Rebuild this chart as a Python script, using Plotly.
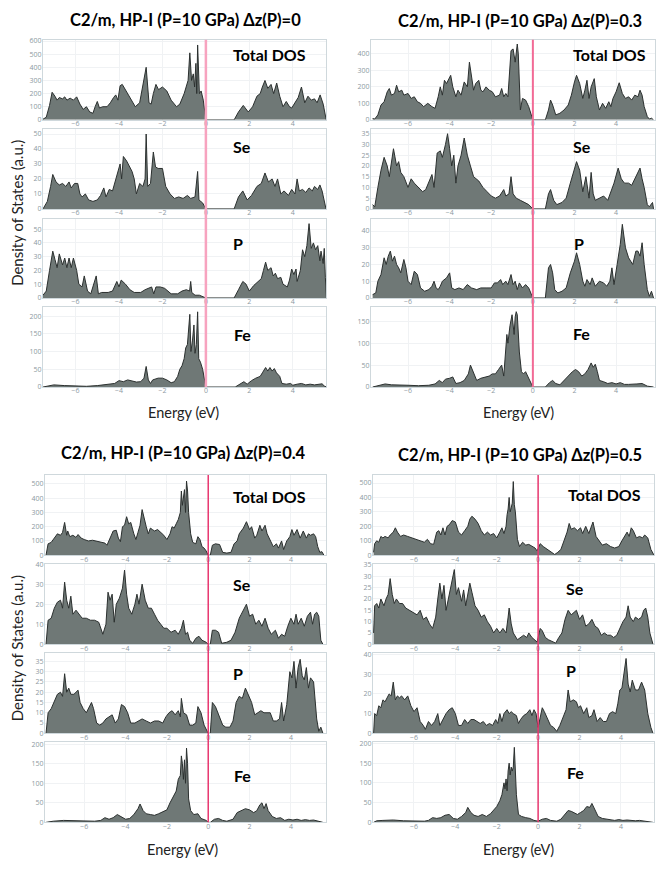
import plotly.graph_objects as go

W, H = 664, 869
PAD = 8  # the page body adds an 8px margin around the figure
FW, FH = W - 2 * PAD, H - 2 * PAD

# (energy eV, DOS) pairs
# --- panel 1 : dz(P)=0 ---
p1_total = [(-7.5, 5), (-7.35, 20), (-7.2, 110), (-7.08, 210), (-6.95, 180), (-6.85, 150), (-6.75, 170),
            (-6.6, 160), (-6.5, 175), (-6.4, 150), (-6.25, 165), (-6.1, 150), (-5.95, 175), (-5.8, 120),
            (-5.65, 80), (-5.5, 100), (-5.35, 60), (-5.2, 50), (-5.1, 100), (-5.0, 140), (-4.9, 90),
            (-4.75, 100), (-4.55, 100), (-4.4, 130), (-4.25, 170), (-4.15, 190), (-4.05, 150), (-3.95, 260),
            (-3.85, 270), (-3.7, 230), (-3.55, 190), (-3.4, 150), (-3.25, 100), (-3.05, 130), (-2.9, 280),
            (-2.75, 400), (-2.62, 130), (-2.52, 120), (-2.42, 200), (-2.3, 270), (-2.18, 230), (-2.0, 250),
            (-1.8, 220), (-1.6, 150), (-1.35, 100), (-1.2, 120), (-1.0, 200), (-0.9, 250), (-0.82, 300),
            (-0.74, 510), (-0.66, 300), (-0.58, 350), (-0.52, 250), (-0.46, 430), (-0.42, 200), (-0.38, 570),
            (-0.3, 200), (-0.22, 220), (-0.12, 150), (0, 0), (1.3, 0), (1.5, 60), (1.72, 110), (1.95, 60),
            (2.15, 100), (2.35, 180), (2.5, 200), (2.6, 250), (2.72, 300), (2.85, 240), (3.0, 270), (3.12, 200),
            (3.26, 280), (3.4, 180), (3.55, 100), (3.7, 140), (3.85, 100), (3.95, 90), (4.1, 130), (4.25, 170),
            (4.4, 250), (4.55, 130), (4.7, 180), (4.85, 150), (5.0, 160), (5.12, 130), (5.26, 190), (5.4, 120),
            (5.54, 0)]
p1_se = [(-7.5, 0), (-7.3, 5), (-7.15, 15), (-7.05, 23), (-6.9, 18), (-6.75, 16), (-6.6, 17), (-6.45, 15),
         (-6.3, 18), (-6.2, 14), (-6.05, 17), (-5.9, 17), (-5.8, 10), (-5.7, 8), (-5.55, 10), (-5.4, 6),
         (-5.2, 5), (-5.0, 6), (-4.85, 9), (-4.7, 14), (-4.6, 8), (-4.45, 13), (-4.3, 12), (-4.15, 20),
         (-4.05, 25), (-3.95, 30), (-3.88, 20), (-3.8, 35), (-3.65, 32), (-3.5, 28), (-3.4, 25), (-3.3, 20),
         (-3.2, 10), (-3.05, 17), (-2.9, 15), (-2.8, 20), (-2.75, 50), (-2.68, 15), (-2.55, 17), (-2.42, 38),
         (-2.32, 28), (-2.2, 27), (-2.0, 27), (-1.85, 15), (-1.65, 10), (-1.45, 7), (-1.25, 8), (-1.05, 7),
         (-0.85, 9), (-0.7, 7), (-0.5, 8), (-0.38, 25), (-0.32, 6), (-0.15, 4), (0, 0), (1.3, 0), (1.5, 8),
         (1.7, 12), (1.9, 6), (2.1, 9), (2.35, 15), (2.55, 17), (2.72, 24), (2.88, 18), (3.05, 20), (3.18, 15),
         (3.3, 20), (3.45, 10), (3.6, 12), (3.8, 9), (3.95, 13), (4.1, 10), (4.2, 20), (4.3, 12), (4.45, 13),
         (4.6, 11), (4.75, 14), (4.9, 12), (5.0, 15), (5.15, 13), (5.25, 16), (5.35, 12), (5.45, 5), (5.53, 0)]
p1_p = [(-7.5, 2), (-7.35, 5), (-7.2, 20), (-7.05, 34), (-6.95, 28), (-6.85, 22), (-6.75, 32), (-6.6, 24),
        (-6.5, 29), (-6.4, 22), (-6.3, 29), (-6.2, 22), (-6.1, 29), (-5.95, 20), (-5.85, 10), (-5.7, 8),
        (-5.6, 16), (-5.45, 5), (-5.3, 3), (-5.15, 10), (-5.05, 16), (-4.95, 3), (-4.8, 4), (-4.5, 4),
        (-4.3, 5), (-4.1, 12), (-4.0, 8), (-3.9, 13), (-3.7, 10), (-3.5, 6), (-3.3, 4), (-3.0, 4), (-2.8, 6),
        (-2.5, 8), (-2.4, 3), (-2.3, 8), (-2.1, 8), (-1.9, 7), (-1.6, 3), (-1.3, 3), (-1.1, 5), (-0.9, 6),
        (-0.75, 5), (-0.7, 12), (-0.65, 4), (-0.5, 2), (-0.3, 2), (0, 0), (1.3, 0), (1.5, 6), (1.7, 12),
        (1.85, 10), (2.0, 5), (2.2, 9), (2.4, 12), (2.55, 14), (2.65, 20), (2.75, 26), (2.85, 20), (3.0, 22),
        (3.1, 16), (3.2, 18), (3.3, 14), (3.45, 15), (3.55, 10), (3.75, 8), (3.85, 13), (3.95, 21),
        (4.05, 17), (4.15, 21), (4.2, 12), (4.35, 20), (4.45, 35), (4.55, 30), (4.65, 38), (4.75, 54),
        (4.85, 36), (4.95, 40), (5.05, 35), (5.15, 38), (5.25, 27), (5.3, 34), (5.4, 25), (5.45, 36),
        (5.5, 15), (5.55, 0)]
p1_fe = [(-7.5, 0), (-7.2, 3), (-7.0, 6), (-6.5, 4), (-6.0, 3), (-5.5, 2), (-5.0, 4), (-4.6, 6), (-4.2, 10),
         (-4.0, 18), (-3.8, 15), (-3.6, 20), (-3.4, 18), (-3.2, 14), (-3.0, 15), (-2.85, 25), (-2.75, 58),
         (-2.65, 20), (-2.55, 10), (-2.45, 20), (-2.2, 25), (-2.0, 25), (-1.8, 20), (-1.6, 12), (-1.45, 15),
         (-1.3, 30), (-1.2, 50), (-1.1, 60), (-1.0, 80), (-0.93, 110), (-0.85, 120), (-0.74, 205),
         (-0.69, 100), (-0.62, 130), (-0.55, 175), (-0.5, 95), (-0.44, 120), (-0.38, 212), (-0.33, 80),
         (-0.25, 70), (-0.15, 50), (-0.05, 20), (0, 0), (1.35, 0), (1.6, 10), (1.75, 15), (1.9, 8),
         (2.1, 18), (2.3, 25), (2.5, 30), (2.6, 40), (2.75, 55), (2.85, 45), (2.95, 55), (3.05, 45),
         (3.15, 52), (3.25, 40), (3.4, 30), (3.5, 10), (3.7, 8), (3.9, 10), (4.0, 5), (4.2, 8), (4.4, 10),
         (4.6, 6), (4.8, 8), (5.0, 6), (5.2, 8), (5.35, 9), (5.45, 3), (5.55, 0)]

# --- panel 2 : dz(P)=0.3 ---
p2_total = [(-7.7, 8), (-7.6, 5), (-7.45, 30), (-7.3, 90), (-7.15, 110), (-7.0, 170), (-6.9, 190), (-6.8, 150),
            (-6.65, 160), (-6.55, 210), (-6.45, 170), (-6.3, 180), (-6.2, 150), (-6.0, 160), (-5.85, 130),
            (-5.7, 140), (-5.55, 110), (-5.4, 100), (-5.25, 80), (-5.05, 100), (-4.85, 80), (-4.7, 70),
            (-4.55, 140), (-4.45, 200), (-4.35, 150), (-4.25, 240), (-4.15, 220), (-4.05, 250), (-3.95, 270),
            (-3.85, 200), (-3.7, 140), (-3.6, 180), (-3.45, 150), (-3.3, 230), (-3.15, 200), (-3.05, 350),
            (-2.95, 250), (-2.85, 180), (-2.75, 220), (-2.6, 240), (-2.5, 180), (-2.4, 170), (-2.25, 200),
            (-2.1, 180), (-1.95, 170), (-1.8, 140), (-1.6, 150), (-1.5, 190), (-1.4, 140), (-1.3, 160),
            (-1.2, 140), (-1.1, 300), (-1.05, 420), (-0.95, 430), (-0.9, 380), (-0.85, 350), (-0.75, 460),
            (-0.7, 400), (-0.6, 60), (-0.5, 130), (-0.35, 120), (-0.2, 80), (0, 0), (0.6, 0), (0.75, 60),
            (0.85, 120), (0.95, 90), (1.1, 30), (1.3, 40), (1.5, 60), (1.7, 90), (1.85, 150), (2.0, 230),
            (2.1, 270), (2.25, 220), (2.4, 130), (2.5, 180), (2.6, 240), (2.7, 130), (2.8, 200), (2.95, 250),
            (3.05, 140), (3.2, 60), (3.35, 100), (3.5, 70), (3.65, 110), (3.75, 80), (3.85, 130), (4.0, 170),
            (4.15, 225), (4.3, 160), (4.45, 130), (4.6, 140), (4.75, 120), (4.9, 150), (5.05, 140),
            (5.15, 180), (5.25, 150), (5.35, 80), (5.5, 20), (5.6, 5), (5.7, 10), (5.8, 0)]
p2_se = [(-7.7, 2), (-7.6, 1), (-7.45, 10), (-7.3, 18), (-7.15, 24), (-7.0, 20), (-6.9, 15), (-6.8, 22),
         (-6.7, 28), (-6.55, 20), (-6.45, 22), (-6.35, 17), (-6.2, 15), (-6.0, 10), (-5.85, 14), (-5.7, 12),
         (-5.5, 10), (-5.3, 8), (-5.15, 9), (-5.0, 13), (-4.85, 16), (-4.75, 10), (-4.6, 26), (-4.45, 27),
         (-4.35, 24), (-4.2, 30), (-4.1, 35), (-4.0, 28), (-3.9, 20), (-3.8, 25), (-3.7, 12), (-3.6, 20),
         (-3.45, 25), (-3.3, 33), (-3.15, 25), (-3.0, 20), (-2.85, 15), (-2.6, 13), (-2.4, 10), (-2.2, 8),
         (-2.0, 6), (-1.8, 5), (-1.6, 6), (-1.4, 9), (-1.3, 6), (-1.15, 7), (-1.05, 15), (-0.95, 7),
         (-0.8, 5), (-0.6, 4), (-0.4, 3), (-0.2, 2), (0, 0), (0.6, 0), (0.75, 7), (0.85, 9), (1.0, 4),
         (1.15, 2), (1.4, 3), (1.6, 5), (1.8, 12), (2.0, 18), (2.1, 22), (2.25, 18), (2.4, 8), (2.55, 15),
         (2.7, 5), (2.8, 17), (2.9, 7), (3.0, 4), (3.2, 5), (3.4, 6), (3.6, 4), (3.75, 8), (3.9, 12),
         (4.1, 19), (4.25, 14), (4.4, 12), (4.6, 12), (4.75, 11), (4.9, 14), (5.05, 17), (5.15, 19),
         (5.25, 14), (5.35, 10), (5.5, 2), (5.6, 1), (5.75, 3), (5.8, 0)]
p2_p = [(-7.7, 2), (-7.55, 3), (-7.45, 10), (-7.3, 14), (-7.15, 24), (-7.05, 20), (-6.95, 25), (-6.85, 28),
        (-6.75, 22), (-6.65, 25), (-6.55, 20), (-6.45, 18), (-6.35, 15), (-6.2, 23), (-6.1, 18), (-6.0, 10),
        (-5.85, 8), (-5.7, 16), (-5.55, 14), (-5.4, 6), (-5.2, 4), (-5.0, 5), (-4.85, 7), (-4.75, 10),
        (-4.65, 6), (-4.55, 5), (-4.45, 7), (-4.35, 10), (-4.15, 12), (-4.0, 15), (-3.9, 6), (-3.75, 5),
        (-3.55, 6), (-3.35, 5), (-3.15, 8), (-2.95, 6), (-2.7, 5), (-2.5, 6), (-2.25, 6), (-2.0, 6),
        (-1.85, 9), (-1.7, 9), (-1.55, 11), (-1.45, 8), (-1.3, 10), (-1.2, 8), (-1.05, 14), (-0.95, 8),
        (-0.85, 10), (-0.75, 5), (-0.65, 9), (-0.5, 6), (-0.35, 8), (-0.2, 6), (-0.1, 3), (0, 0), (0.6, 0),
        (0.75, 18), (0.85, 20), (0.95, 15), (1.05, 5), (1.2, 3), (1.4, 4), (1.6, 6), (1.8, 15), (2.0, 22),
        (2.1, 27), (2.25, 20), (2.4, 10), (2.5, 7), (2.6, 11), (2.75, 8), (2.85, 12), (3.0, 7), (3.2, 10),
        (3.4, 9), (3.55, 7), (3.7, 10), (3.8, 18), (3.9, 8), (4.05, 20), (4.2, 32), (4.3, 44), (4.45, 30),
        (4.6, 24), (4.8, 20), (4.95, 28), (5.05, 28), (5.15, 25), (5.25, 33), (5.35, 20), (5.5, 5),
        (5.6, 1), (5.7, 4), (5.8, 0)]
p2_fe = [(-7.7, 0), (-7.4, 4), (-7.1, 7), (-6.8, 5), (-6.4, 5), (-6.0, 4), (-5.5, 3), (-5.0, 4), (-4.7, 7),
         (-4.5, 15), (-4.35, 10), (-4.2, 18), (-4.0, 20), (-3.85, 23), (-3.7, 8), (-3.5, 10), (-3.3, 15),
         (-3.1, 30), (-3.0, 50), (-2.85, 30), (-2.7, 15), (-2.5, 20), (-2.3, 22), (-2.1, 25), (-1.95, 30),
         (-1.8, 30), (-1.65, 40), (-1.5, 50), (-1.4, 25), (-1.3, 100), (-1.25, 120), (-1.2, 100),
         (-1.1, 140), (-1.0, 165), (-0.95, 140), (-0.9, 120), (-0.85, 160), (-0.8, 172), (-0.75, 165),
         (-0.65, 80), (-0.55, 35), (-0.45, 30), (-0.35, 35), (-0.25, 25), (-0.1, 10), (0, 0), (0.6, 0),
         (0.8, 10), (0.95, 15), (1.1, 8), (1.3, 5), (1.5, 15), (1.7, 25), (1.9, 35), (2.05, 40), (2.2, 35),
         (2.35, 25), (2.5, 30), (2.65, 40), (2.8, 55), (2.9, 45), (3.0, 52), (3.1, 35), (3.2, 15), (3.4, 12),
         (3.6, 8), (3.8, 10), (4.0, 7), (4.2, 10), (4.4, 6), (4.6, 6), (4.8, 6), (5.0, 7), (5.25, 8),
         (5.35, 5), (5.5, 2), (5.8, 0)]

# --- panel 3 : dz(P)=0.4 ---
p3_total = [(-7.85, 0), (-7.75, 80), (-7.6, 90), (-7.45, 120), (-7.3, 150), (-7.15, 140), (-7.05, 160),
            (-6.95, 230), (-6.85, 140), (-6.8, 170), (-6.7, 130), (-6.55, 140), (-6.4, 125), (-6.3, 145),
            (-6.15, 120), (-6.0, 110), (-5.8, 100), (-5.6, 105), (-5.4, 100), (-5.2, 90), (-5.0, 85),
            (-4.9, 70), (-4.75, 120), (-4.6, 170), (-4.45, 175), (-4.35, 120), (-4.25, 95), (-4.15, 200),
            (-4.05, 210), (-3.95, 270), (-3.85, 220), (-3.75, 230), (-3.6, 150), (-3.5, 110), (-3.4, 160),
            (-3.3, 210), (-3.2, 320), (-3.1, 250), (-3.0, 200), (-2.9, 150), (-2.8, 190), (-2.7, 180),
            (-2.6, 170), (-2.45, 180), (-2.3, 160), (-2.15, 140), (-2.0, 110), (-1.85, 150), (-1.75, 200),
            (-1.65, 190), (-1.55, 220), (-1.45, 250), (-1.35, 300), (-1.3, 450), (-1.25, 350), (-1.15, 460),
            (-1.1, 300), (-1.05, 520), (-1.0, 450), (-0.95, 300), (-0.85, 150), (-0.75, 90), (-0.6, 80),
            (-0.5, 130), (-0.4, 110), (-0.3, 60), (-0.2, 50), (-0.1, 30), (0, 0), (0.1, 0), (0.2, 70),
            (0.35, 80), (0.55, 75), (0.7, 20), (0.9, 15), (1.1, 20), (1.25, 80), (1.4, 100), (1.5, 150),
            (1.7, 190), (1.85, 235), (2.0, 180), (2.1, 200), (2.25, 120), (2.35, 140), (2.5, 210), (2.6, 170),
            (2.75, 210), (2.85, 150), (3.0, 100), (3.15, 60), (3.3, 80), (3.4, 50), (3.55, 100), (3.65, 40),
            (3.8, 100), (3.95, 130), (4.05, 180), (4.15, 140), (4.3, 180), (4.45, 120), (4.6, 170),
            (4.75, 120), (4.85, 150), (4.95, 140), (5.1, 150), (5.2, 130), (5.3, 60), (5.4, 20), (5.5, 25),
            (5.6, 0)]
p3_se = [(-7.85, 0), (-7.75, 12), (-7.6, 13), (-7.45, 18), (-7.3, 21), (-7.15, 22), (-7.05, 18), (-6.95, 31),
         (-6.85, 22), (-6.75, 18), (-6.65, 24), (-6.55, 15), (-6.4, 17), (-6.25, 15), (-6.1, 13), (-5.9, 13),
         (-5.7, 12), (-5.5, 12), (-5.3, 11), (-5.1, 5), (-4.95, 10), (-4.85, 26), (-4.75, 22), (-4.65, 25),
         (-4.55, 11), (-4.45, 20), (-4.3, 23), (-4.15, 28), (-4.05, 37), (-3.95, 25), (-3.85, 18),
         (-3.7, 15), (-3.55, 20), (-3.45, 25), (-3.35, 20), (-3.2, 30), (-3.05, 22), (-2.9, 18), (-2.75, 18),
         (-2.6, 15), (-2.45, 12), (-2.3, 10), (-2.15, 8), (-2.0, 8), (-1.8, 6), (-1.6, 7), (-1.45, 5),
         (-1.3, 8), (-1.2, 12), (-1.1, 5), (-1.0, 6), (-0.9, 2), (-0.75, 0.5), (-0.6, 3), (-0.45, 4),
         (-0.3, 2), (-0.1, 1), (0, 0), (0.1, 0), (0.2, 7), (0.35, 7), (0.5, 6), (0.65, 0.5), (0.9, 1),
         (1.1, 2), (1.3, 6), (1.5, 13), (1.6, 15), (1.75, 18), (1.85, 20), (2.0, 14), (2.15, 15), (2.3, 10),
         (2.45, 12), (2.6, 9), (2.75, 13), (2.9, 8), (3.05, 5), (3.25, 7), (3.4, 3), (3.55, 5), (3.7, 4),
         (3.85, 9), (4.0, 13), (4.15, 10), (4.25, 15), (4.35, 10), (4.5, 13), (4.65, 9), (4.8, 14),
         (4.95, 16), (5.05, 10), (5.15, 15), (5.25, 16), (5.35, 14), (5.45, 2), (5.55, 0)]
p3_p = [(-7.85, 0), (-7.75, 10), (-7.6, 12), (-7.45, 16), (-7.3, 19), (-7.15, 20), (-7.05, 18), (-6.95, 29),
        (-6.85, 20), (-6.75, 22), (-6.65, 19), (-6.5, 19), (-6.4, 20), (-6.3, 21), (-6.2, 15), (-6.05, 12),
        (-5.9, 10), (-5.75, 13), (-5.65, 15), (-5.55, 12), (-5.4, 5), (-5.25, 4), (-5.1, 5), (-4.95, 7),
        (-4.8, 8), (-4.65, 9), (-4.5, 5), (-4.35, 7), (-4.2, 14), (-4.05, 13), (-3.9, 10), (-3.75, 5),
        (-3.55, 5), (-3.4, 6), (-3.2, 7), (-3.0, 6), (-2.8, 5), (-2.6, 6), (-2.4, 6), (-2.2, 5), (-2.05, 8),
        (-1.9, 10), (-1.75, 11), (-1.6, 9), (-1.45, 11), (-1.35, 8), (-1.3, 17), (-1.2, 10), (-1.05, 9),
        (-0.9, 4), (-0.75, 4), (-0.6, 5), (-0.5, 13), (-0.35, 10), (-0.2, 4), (-0.05, 1), (0, 0), (0.1, 0),
        (0.2, 15), (0.35, 13), (0.55, 8), (0.7, 4), (0.85, 3), (1.05, 3), (1.2, 6), (1.35, 15), (1.5, 18),
        (1.65, 17), (1.8, 22), (1.95, 18), (2.1, 15), (2.25, 9), (2.4, 10), (2.55, 11), (2.7, 10),
        (2.85, 10), (3.0, 10), (3.15, 6), (3.3, 6), (3.45, 7), (3.55, 15), (3.65, 6), (3.8, 14), (3.95, 30),
        (4.05, 27), (4.15, 35), (4.25, 22), (4.35, 32), (4.45, 36), (4.55, 28), (4.65, 26), (4.75, 32),
        (4.85, 22), (4.95, 27), (5.1, 25), (5.25, 7), (5.35, 1), (5.45, 3), (5.55, 0)]
p3_fe = [(-7.85, 0), (-7.5, 3), (-7.0, 5), (-6.5, 4), (-6.0, 3), (-5.5, 3), (-5.2, 5), (-5.0, 12), (-4.8, 8),
         (-4.6, 12), (-4.4, 20), (-4.2, 15), (-4.0, 8), (-3.8, 10), (-3.6, 20), (-3.4, 35), (-3.3, 47),
         (-3.15, 30), (-3.0, 22), (-2.8, 20), (-2.6, 18), (-2.4, 22), (-2.2, 28), (-2.0, 32), (-1.85, 50),
         (-1.7, 65), (-1.55, 80), (-1.45, 110), (-1.35, 120), (-1.3, 170), (-1.25, 150), (-1.2, 110),
         (-1.15, 160), (-1.1, 100), (-1.05, 190), (-1.0, 150), (-0.95, 60), (-0.85, 30), (-0.7, 20),
         (-0.5, 22), (-0.35, 10), (-0.1, 5), (0, 0), (0.1, 0), (0.3, 8), (0.5, 10), (0.7, 5), (0.9, 3),
         (1.2, 8), (1.4, 25), (1.6, 30), (1.8, 35), (2.0, 32), (2.2, 25), (2.35, 30), (2.5, 45), (2.6, 50),
         (2.7, 35), (2.8, 48), (2.9, 30), (3.1, 15), (3.3, 10), (3.5, 12), (3.7, 5), (3.9, 8), (4.1, 6),
         (4.3, 8), (4.5, 5), (4.7, 7), (4.9, 5), (5.1, 6), (5.3, 3), (5.55, 0)]

# --- panel 4 : dz(P)=0.5 ---
p4_total = [(-7.95, 20), (-7.9, 80), (-7.8, 100), (-7.7, 90), (-7.6, 130), (-7.5, 120), (-7.4, 130),
            (-7.25, 120), (-7.15, 140), (-7.0, 160), (-6.9, 190), (-6.8, 160), (-6.65, 130), (-6.5, 140),
            (-6.3, 130), (-6.1, 120), (-5.9, 110), (-5.7, 105), (-5.5, 90), (-5.35, 110), (-5.2, 80),
            (-5.05, 75), (-4.9, 160), (-4.8, 170), (-4.7, 140), (-4.6, 190), (-4.5, 140), (-4.4, 200),
            (-4.3, 210), (-4.15, 240), (-4.0, 230), (-3.85, 160), (-3.7, 140), (-3.55, 170), (-3.4, 200),
            (-3.3, 250), (-3.2, 270), (-3.05, 250), (-2.9, 220), (-2.75, 170), (-2.6, 140), (-2.45, 160),
            (-2.3, 140), (-2.15, 150), (-2.0, 120), (-1.85, 160), (-1.75, 190), (-1.65, 150), (-1.55, 200),
            (-1.5, 280), (-1.45, 320), (-1.4, 400), (-1.35, 300), (-1.25, 360), (-1.2, 510), (-1.15, 350),
            (-1.1, 300), (-1.0, 110), (-0.9, 60), (-0.75, 90), (-0.6, 70), (-0.45, 75), (-0.3, 60),
            (-0.15, 50), (-0.05, 30), (0.0, 50), (0.1, 80), (0.25, 60), (0.45, 40), (0.6, 20), (0.8, 5),
            (0.95, 20), (1.1, 40), (1.25, 100), (1.4, 160), (1.5, 220), (1.6, 180), (1.75, 190), (1.9, 170),
            (2.05, 190), (2.15, 150), (2.3, 200), (2.45, 150), (2.6, 210), (2.65, 230), (2.8, 130),
            (2.95, 100), (3.1, 70), (3.3, 80), (3.5, 60), (3.7, 50), (3.9, 60), (4.05, 100), (4.2, 140),
            (4.3, 160), (4.4, 130), (4.5, 190), (4.6, 170), (4.75, 120), (4.9, 130), (5.05, 120), (5.15, 140),
            (5.3, 120), (5.45, 40), (5.6, 0)]
p4_se = [(-7.95, 5), (-7.9, 17), (-7.8, 18), (-7.7, 16), (-7.6, 20), (-7.45, 17), (-7.35, 20), (-7.25, 22),
         (-7.15, 29), (-7.05, 22), (-6.95, 18), (-6.85, 20), (-6.7, 18), (-6.55, 18), (-6.4, 16), (-6.2, 15),
         (-6.0, 14), (-5.85, 13), (-5.7, 15), (-5.55, 11), (-5.4, 12), (-5.25, 9), (-5.1, 7), (-4.95, 12),
         (-4.85, 20), (-4.75, 27), (-4.65, 20), (-4.55, 26), (-4.45, 15), (-4.3, 22), (-4.15, 28),
         (-4.05, 33), (-3.95, 22), (-3.85, 25), (-3.7, 19), (-3.6, 24), (-3.5, 17), (-3.4, 22), (-3.3, 27),
         (-3.2, 23), (-3.05, 17), (-2.9, 15), (-2.75, 12), (-2.6, 13), (-2.45, 10), (-2.3, 8), (-2.15, 5),
         (-2.0, 7), (-1.85, 5), (-1.7, 7), (-1.55, 5), (-1.45, 12), (-1.4, 16), (-1.3, 9), (-1.2, 5),
         (-1.0, 2), (-0.85, 3), (-0.7, 4), (-0.55, 3), (-0.45, 5), (-0.3, 3), (-0.15, 2), (-0.05, 1),
         (0.0, 3), (0.1, 7), (0.2, 6), (0.35, 3), (0.5, 2), (0.7, 1), (0.85, 0.5), (1.0, 3), (1.15, 5),
         (1.3, 11), (1.45, 15), (1.6, 13), (1.75, 14), (1.85, 15), (2.0, 11), (2.15, 13), (2.3, 8), (2.45, 9),
         (2.6, 11), (2.75, 8), (2.9, 7), (3.05, 4), (3.2, 5), (3.35, 4), (3.5, 4), (3.65, 3), (3.8, 4),
         (3.95, 7), (4.1, 10), (4.25, 12), (4.35, 17), (4.45, 12), (4.6, 10), (4.7, 12), (4.85, 11),
         (5.0, 12), (5.1, 15), (5.2, 16), (5.3, 12), (5.4, 5), (5.5, 1), (5.55, 0)]
p4_p = [(-7.95, 0), (-7.9, 10), (-7.8, 9), (-7.7, 14), (-7.6, 13), (-7.5, 17), (-7.4, 16), (-7.3, 18),
        (-7.2, 20), (-7.1, 19), (-7.0, 26), (-6.9, 17), (-6.8, 19), (-6.7, 18), (-6.6, 19), (-6.45, 17),
        (-6.3, 19), (-6.15, 14), (-6.0, 11), (-5.85, 13), (-5.7, 6), (-5.55, 4), (-5.45, 2), (-5.3, 6),
        (-5.15, 4), (-5.0, 6), (-4.85, 10), (-4.75, 4), (-4.6, 7), (-4.45, 10), (-4.3, 12), (-4.15, 13),
        (-4.0, 10), (-3.85, 4), (-3.7, 4), (-3.55, 7), (-3.4, 5), (-3.25, 7), (-3.1, 7), (-2.95, 6),
        (-2.8, 5), (-2.65, 6), (-2.5, 4), (-2.35, 5), (-2.2, 4), (-2.05, 7), (-1.95, 5), (-1.85, 10),
        (-1.75, 6), (-1.65, 10), (-1.5, 12), (-1.4, 10), (-1.3, 11), (-1.2, 10), (-1.05, 9), (-0.95, 5),
        (-0.85, 7), (-0.7, 9), (-0.55, 10), (-0.4, 12), (-0.3, 9), (-0.2, 12), (-0.1, 10), (0.0, 3),
        (0.1, 8), (0.2, 13), (0.3, 11), (0.45, 7), (0.6, 4), (0.75, 3), (0.9, 1), (1.05, 4), (1.2, 8),
        (1.35, 12), (1.45, 22), (1.55, 16), (1.7, 17), (1.85, 16), (1.95, 13), (2.05, 14), (2.2, 10),
        (2.35, 13), (2.45, 8), (2.6, 9), (2.7, 12), (2.85, 6), (3.0, 8), (3.15, 6), (3.3, 6), (3.45, 10),
        (3.6, 11), (3.75, 10), (3.85, 15), (3.95, 22), (4.05, 23), (4.15, 30), (4.25, 38), (4.35, 25),
        (4.45, 21), (4.55, 27), (4.7, 22), (4.85, 22), (5.0, 26), (5.15, 22), (5.3, 10), (5.45, 3), (5.55, 0)]
p4_fe = [(-7.95, 0), (-7.8, 4), (-7.5, 5), (-7.0, 6), (-6.5, 4), (-6.0, 3), (-5.5, 3), (-5.3, 5), (-5.1, 12),
         (-4.9, 10), (-4.7, 12), (-4.5, 18), (-4.3, 20), (-4.1, 10), (-3.9, 8), (-3.7, 15), (-3.5, 25),
         (-3.4, 38), (-3.25, 25), (-3.1, 18), (-2.9, 15), (-2.7, 20), (-2.5, 15), (-2.3, 22), (-2.15, 30),
         (-2.0, 40), (-1.85, 55), (-1.75, 70), (-1.65, 100), (-1.6, 85), (-1.55, 110), (-1.5, 80),
         (-1.45, 130), (-1.4, 150), (-1.35, 120), (-1.3, 140), (-1.25, 130), (-1.2, 140), (-1.15, 190),
         (-1.1, 120), (-1.05, 70), (-0.95, 20), (-0.8, 15), (-0.6, 12), (-0.4, 10), (-0.2, 5), (0.0, 3),
         (0.2, 8), (0.4, 10), (0.6, 5), (0.9, 3), (1.1, 8), (1.3, 20), (1.45, 30), (1.6, 28), (1.75, 25),
         (1.9, 20), (2.05, 25), (2.2, 30), (2.35, 40), (2.5, 38), (2.6, 48), (2.75, 30), (2.9, 15),
         (3.1, 10), (3.3, 8), (3.5, 6), (3.7, 5), (3.9, 7), (4.1, 5), (4.3, 6), (4.5, 5), (4.7, 4),
         (4.9, 5), (5.1, 4), (5.3, 3), (5.55, 0)]

titles = ["C2/m, HP-I (P=10 GPa) Δz(P)=0", "C2/m, HP-I (P=10 GPa) Δz(P)=0.3",
          "C2/m, HP-I (P=10 GPa) Δz(P)=0.4", "C2/m, HP-I (P=10 GPa) Δz(P)=0.5"]
species = ["Total DOS", "Se", "P", "Fe"]
curves = [[p1_total, p1_se, p1_p, p1_fe], [p2_total, p2_se, p2_p, p2_fe],
          [p3_total, p3_se, p3_p, p3_fe], [p4_total, p4_se, p4_p, p4_fe]]

# layout of each panel in page pixels
top_rows = [(35, 116), (125, 206), (216, 296), (305, 386)]
bot_rows = [(475, 556), (565, 646), (655, 736), (745, 826)]
panels = [
    dict(x=(43, 326), rows=top_rows, xr=[-7.5, 5.53], ymax=[610, 53.5, 57.5, 226], dt=[100, 10, 10, 50],
         zc="#f7a3bf", zw=2.5, title=(185, 15), lab=[(269, 50), (242, 143), (238, 241), (242, 333)], en=(183, 412)),
    dict(x=(371, 655), rows=top_rows, xr=[-7.78, 5.87], ymax=[486, 37.3, 47.3, 183], dt=[100, 5, 10, 50],
         zc="#f26a95", zw=2, title=(520, 16), lab=[(609, 50), (582, 143), (579, 241), (581, 332)], en=(519, 412)),
    dict(x=(45, 326), rows=bot_rows, xr=[-7.9, 5.7], ymax=[562, 40, 39, 205], dt=[100, 10, 5, 50],
         zc="#e8376f", zw=1.5, title=(183, 453), lab=[(269, 497), (242, 586), (238, 676), (242, 779)], en=(182, 853)),
    dict(x=(373, 654), rows=bot_rows, xr=[-7.98, 5.6], ymax=[555, 35.4, 40.7, 203], dt=[100, 5, 10, 50],
         zc="#e8376f", zw=1.5, title=(520, 455), lab=[(604, 495), (575, 590), (571, 673), (575, 776)], en=(519, 853)),
]


def px(v):
    return (v - PAD) / FW


def py(v):
    return 1 - (v - PAD) / FH


fig = go.Figure()
annotations = []
shapes = []
tick_font = dict(family="Open Sans", size=7, color="#8d999f")
label_font = "Lato, Open Sans, sans-serif"

idx = 0
for k, pan in enumerate(panels):
    first = idx + 1
    for j in range(4):
        idx += 1
        pts = curves[k][j]
        fig.add_trace(go.Scatter(
            x=[p[0] for p in pts], y=[p[1] for p in pts],
            mode="lines", fill="tozeroy",
            fillcolor="#6f7876", line=dict(color="#2b302f", width=1),
            xaxis=f"x{idx}", yaxis=f"y{idx}", showlegend=False, hoverinfo="skip"))
        r0, r1 = pan["rows"][j]
        axis_common = dict(showline=True, linecolor="#cfd8dc", linewidth=1, mirror=True,
                           showgrid=True, gridcolor="#f0f2f4", zeroline=False, ticks="",
                           tickfont=tick_font)
        fig.layout[f"xaxis{idx}"] = dict(axis_common, domain=[px(pan["x"][0]), px(pan["x"][1])],
                                          range=pan["xr"], dtick=2, tick0=0, anchor=f"y{idx}",
                                          ticklabelstandoff=-3)
        fig.layout[f"yaxis{idx}"] = dict(axis_common, domain=[py(r1), py(r0)],
                                          range=[0, pan["ymax"][j]], dtick=pan["dt"][j], anchor=f"x{idx}",
                                          ticklabelstandoff=-1)
        lx, ly = pan["lab"][j]
        annotations.append(dict(text=f"<b>{species[j]}</b>", x=px(lx), y=py(ly), xref="paper", yref="paper",
                                showarrow=False, xanchor="center", yanchor="middle",
                                font=dict(family=label_font, size=16, color="black")))
    # Fermi level marker through the four stacked plots
    shapes.append(dict(type="line", xref=f"x{first}", yref="paper", x0=0, x1=0,
                       y0=py(pan["rows"][3][1]), y1=py(pan["rows"][0][0]),
                       line=dict(color=pan["zc"], width=pan["zw"])))
    tx, ty = pan["title"]
    annotations.append(dict(text=f"<b>{titles[k]}</b>", x=px(tx), y=py(ty), xref="paper", yref="paper",
                            showarrow=False, xanchor="center", yanchor="middle",
                            font=dict(family=label_font, size=16.5, color="black")))
    ex, ey = pan["en"]
    annotations.append(dict(text="Energy (eV)", x=px(ex), y=py(ey), xref="paper", yref="paper",
                            showarrow=False, xanchor="center", yanchor="middle",
                            font=dict(family=label_font, size=14.5, color="#222")))

for yc in (210, 650):
    annotations.append(dict(text="Density of States (a.u.)", x=px(17), y=py(yc), xref="paper", yref="paper",
                            showarrow=False, textangle=-90, xanchor="center", yanchor="middle",
                            font=dict(family=label_font, size=15, color="#222")))

fig.update_layout(width=FW, height=FH, margin=dict(l=0, r=0, t=0, b=0),
                  paper_bgcolor="white", plot_bgcolor="white",
                  annotations=annotations, shapes=shapes)

fig.write_html("out.html")
